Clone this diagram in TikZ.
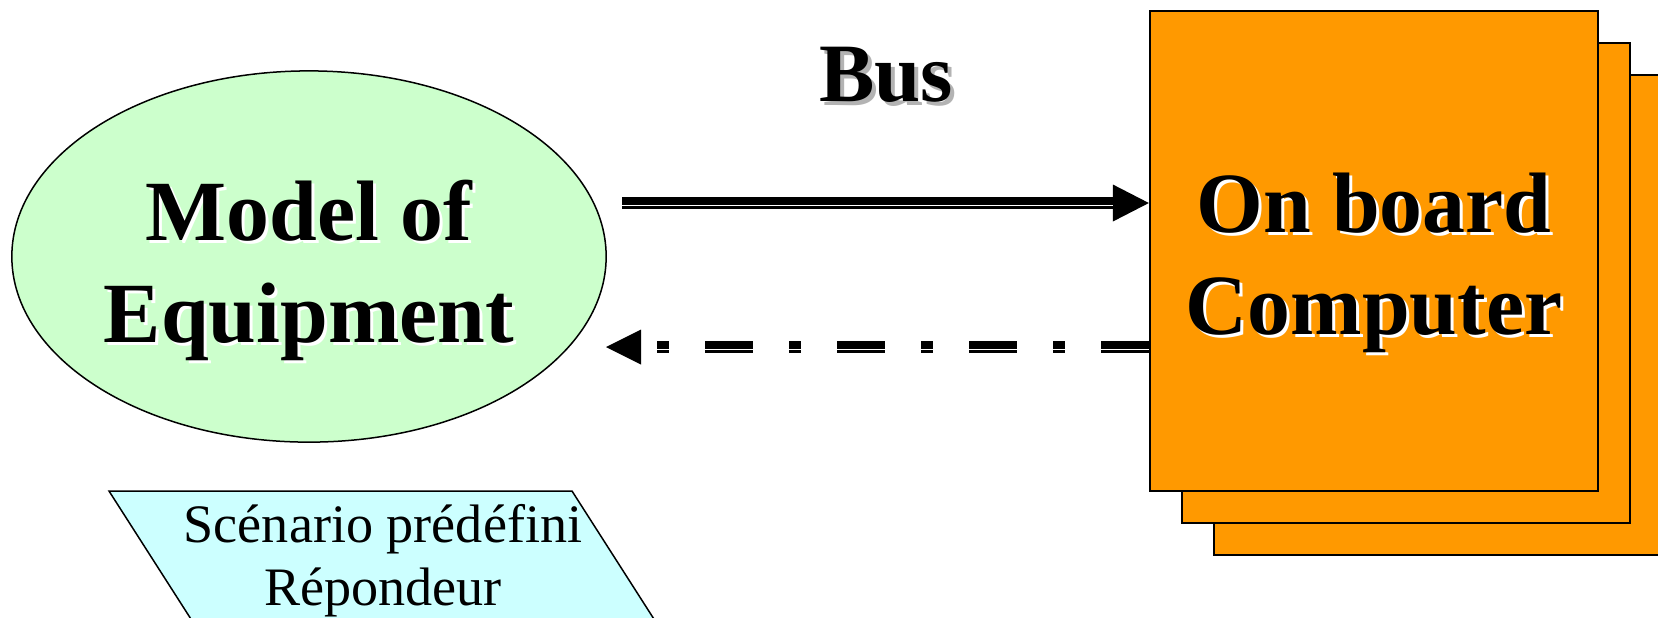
\documentclass[tikz,border=0pt]{standalone}
\usepackage{fontspec}
\setmainfont{Liberation Serif}
\usetikzlibrary{shapes.geometric,arrows.meta}

\definecolor{modelgreen}{HTML}{CCFFCC}
\definecolor{scencyan}{HTML}{CCFFFF}
\definecolor{obcorange}{HTML}{FF9900}
\definecolor{shadowgray}{HTML}{B3B3B3}

\tikzset{
  bigtxt/.style={align=center, anchor=base, inner sep=0pt,
    font=\fontsize{24.4pt}{29pt}\selectfont\bfseries},
  bustxt/.style={anchor=base, inner sep=0pt,
    font=\fontsize{23.6pt}{27pt}\selectfont\bfseries},
  obcbox/.style={draw, line width=0.02cm, fill=obcorange,
    minimum width=4.48cm, minimum height=4.8cm, inner sep=0pt},
  busline/.style={line width=0.125cm},
  busgap/.style={white, line width=0.017cm, transform canvas={yshift=-0.024cm}},
  dashdot/.style={dash pattern=on 0.48cm off 0.36cm on 0.12cm off 0.36cm},
}

\begin{document}
\begin{tikzpicture}[x=0.01cm, y=-0.01cm]
\useasboundingbox (0,0) rectangle (1658,617);
\clip (0,0) rectangle (1658,617);
% Nodes
\node[ellipse, draw, line width=0.015cm, fill=modelgreen,
  minimum width=5.94cm, minimum height=3.71cm] (model) at (309,256.5) {};
\node[obcbox] (obc3) at (1438,315) {};
\node[obcbox] (obc2) at (1406,283) {};
\node[obcbox] (obc1) at (1374,251) {};
% Texts (shadow first), placed on the last baseline
\foreach \c/\d in {white/3, black/0} {
  \node[bigtxt, text=\c] (modeltxt-\c) at (309+\d, 342+\d) {Model of\\Equipment};
  \node[bigtxt, text=\c] (obctxt-\c) at (1374+\d, 334+\d) {On board\\Computer};
}
\node[bustxt, text=shadowgray] (bus-shadow) at (890,105) {Bus};
\node[bustxt] (bus) at (886,101) {Bus};
% Scenario
\draw[line width=0.015cm, fill=scencyan] (109,491) -- (572,491) -- (700,691) -- (237,691) -- cycle;
\node[align=center, anchor=base, inner sep=0pt,
  font=\fontsize{15.4pt}{17.9pt}\selectfont] (scen) at (383,605) {Scénario prédéfini\\Répondeur};
% Edges
\coordinate (busin) at (622,203);
\coordinate (retin) at (606,347);
\draw[busline, -{Triangle[length=0.36cm, width=0.37cm, line width=0pt]}] (busin) -- (obc1.west |- busin);
\draw[busgap, shorten >=0.36cm] (busin) -- (obc1.west |- busin);
\draw[busline, dashdot, -{Triangle[length=0.35cm, width=0.35cm, line width=0pt]}] (obc1.west |- retin) -- (retin);
\draw[busgap, dashdot, shorten >=0.35cm] (obc1.west |- retin) -- (retin);
\end{tikzpicture}
\end{document}
